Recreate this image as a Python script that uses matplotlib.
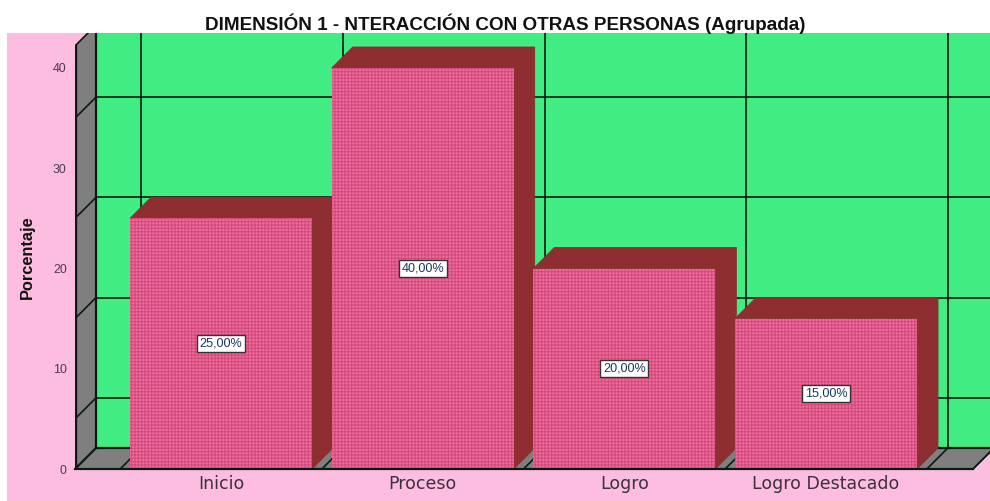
import matplotlib
matplotlib.use("Agg")
import matplotlib.pyplot as plt
from matplotlib.patches import Rectangle

categories = ["Inicio", "Proceso", "Logro", "Logro Destacado"]
values = [25, 40, 20, 15]
yticks = [0, 10, 20, 30, 40]
grid_vals = [5, 15, 25, 35]
title = "DIMENSIÓN 1 - NTERACCIÓN CON OTRAS PERSONAS (Agrupada)"

plt.rcParams['font.family'] = ['Liberation Sans', 'DejaVu Sans']
plt.rcParams['hatch.linewidth'] = 0.75

W, H = 990, 501
fig = plt.figure(figsize=(W/100, H/100), dpi=100, facecolor="white")
fig.add_artist(Rectangle((7/W, 0), (W-7)/W, (H-33)/H, transform=fig.transFigure,
                         fc="#fdbde0", ec="none", zorder=-5))

# axes box in pixels: left 75, right 990, baseline 469, top 33
ax = fig.add_axes([75/W, (H-469)/H, 915/W, 436/H])
ax.patch.set_alpha(0)
step = 201.67
ax.set_xlim((75-221)/step, (990-221)/step)
ax.set_ylim(0, 436/10.025)
for s in ax.spines.values():
    s.set_visible(False)

dx = 21/step
dy = 21/10.025
bw = 182/step
x0 = ax.get_xlim()[0]
xfloor_end = (973-221)/step
top = 42.2

# walls
ax.fill([x0, x0+dx, x0+dx, x0], [0, dy, top+dy, top], fc="#7f7f7f", ec="none", zorder=1)
ax.fill([x0+dx, xfloor_end+dx, xfloor_end+dx, x0+dx], [dy, dy, 50, 50], fc="#41ec82", ec="none", zorder=1)
ax.fill([x0, xfloor_end, xfloor_end+dx, x0+dx], [0, 0, dy, dy], fc="#7f7f7f", ec="none", zorder=1)

# grid on the walls
lc = "#0a1a10"
for v in grid_vals:
    ax.plot([x0+dx, 5], [v+dy, v+dy], color=lc, lw=1.2, zorder=2)
    ax.plot([x0, x0+dx], [v, v+dy], color=lc, lw=1.2, zorder=2)
for i in range(len(categories)+1):
    xb = i - 0.5 + dx
    ax.plot([xb, xb], [dy, 50], color=lc, lw=1.2, zorder=2)
    ax.plot([i-0.5, xb], [0, dy], color=lc, lw=1.2, zorder=2)
ax.plot([x0+dx, x0+dx], [0+dy, 50], color=lc, lw=1.6, zorder=2)
ax.plot([x0+dx, 5], [dy, dy], color=lc, lw=1.6, zorder=2)
ax.plot([x0, x0+dx], [0, dy], color=lc, lw=1.6, zorder=2)
ax.plot([x0, x0], [0, top], color=lc, lw=2.4, zorder=2)
ax.plot([x0, x0+dx], [top, top+dy], color=lc, lw=1.2, zorder=2)
ax.plot([xfloor_end, xfloor_end+dx], [0, dy], color=lc, lw=1.4, zorder=2)

# bars, left to right so the next one covers the previous side
for i, v in enumerate(values):
    l, r = i-bw/2, i+bw/2
    z = 3 + i
    ax.fill([l, r, r+dx, l+dx], [v, v, v+dy, v+dy], fc="#8e2e30", ec="#8e2e30", lw=0.6, zorder=z)
    ax.fill([r, r+dx, r+dx, r], [0, dy, v+dy, v], fc="#8e2e30", ec="#8e2e30", lw=0.6, zorder=z)
    ax.fill([l, r, r, l], [0, 0, v, v], fc="#f06c9c", ec="#d04a7c", hatch="+++++", lw=0, zorder=z+0.5)
    ax.text(i, v/2, f"{v:.2f}%".replace(".", ","), ha="center", va="center", fontsize=9.1,
            color="#17375e", zorder=10,
            bbox=dict(boxstyle="square,pad=0.2", fc="white", ec="#333333", lw=1))

ax.plot([x0, xfloor_end], [0, 0], color=lc, lw=1.6, zorder=9, clip_on=False)

ax.set_yticks(yticks)
ax.set_xticks(range(len(categories)))
ax.set_xticklabels(categories, fontsize=12.5, color="#3a3040", family="DejaVu Sans", va="center")
ax.tick_params(axis="x", length=0, pad=11)
ax.tick_params(axis="y", length=0, pad=6, labelsize=8.9, labelcolor="#4a3a50")

fig.text(505/W, 1-24/H, title, ha="center", va="center", fontsize=13.6, fontweight="bold", color="#111111")
fig.text(27/W, 1-257/H, "Porcentaje", rotation=90, ha="center", va="center", fontsize=11.8, fontweight="bold", color="#111111")

fig.savefig("out.png", dpi=100)
